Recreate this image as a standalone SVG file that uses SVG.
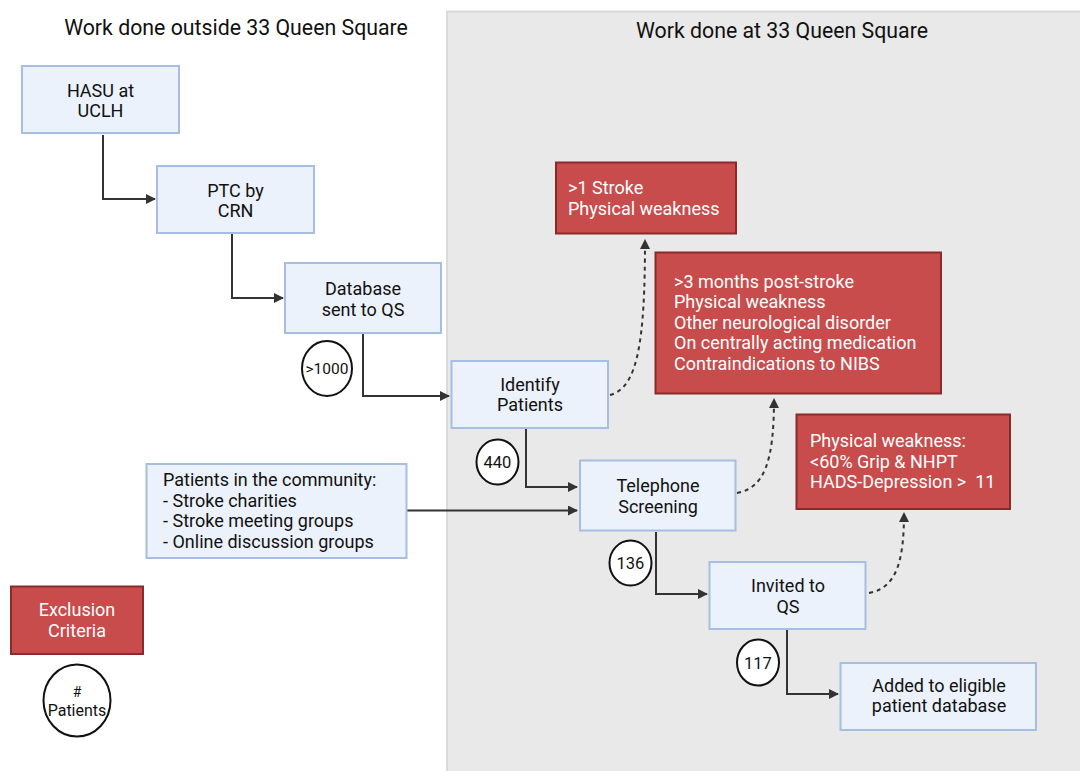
<svg xmlns="http://www.w3.org/2000/svg" width="1080" height="771" viewBox="0 0 1080 771">
<style>
text{font-family:Roboto,"Liberation Sans",sans-serif;font-size:18px;fill:#111}
.blue{fill:#ecf2fb;stroke:#a6bee4;stroke-width:2}
.red{fill:#c84c4c;stroke:#8a2a2a;stroke-width:2}
.wt{fill:#fff}
.c{text-anchor:middle}
.ov{fill:#fff;stroke:#111;stroke-width:2}
.ol{font-size:16.5px;text-anchor:middle}
.ln{fill:none;stroke:#333;stroke-width:2}
.dl{fill:none;stroke:#333;stroke-width:2;stroke-dasharray:4 4}
.title{font-size:21.3px;text-anchor:middle}
</style>
<defs>
<marker id="ah" viewBox="0 0 10 10" refX="9" refY="5" markerWidth="5" markerHeight="5" orient="auto" markerUnits="strokeWidth">
<path d="M0,0 L10,5 L0,10 z" fill="#333"/>
</marker>
</defs>
<rect width="1080" height="771" fill="#fff"/>
<g id="panel">
<rect x="447" y="11.5" width="640" height="770" fill="#e9e9e9" stroke="#dadada" stroke-width="2"/>
</g>
<g id="titles">
<text class="title" x="236" y="35">Work done outside 33 Queen Square</text>
<text class="title" x="782" y="38">Work done at 33 Queen Square</text>
</g>
<g id="connectors">
<path class="ln" d="M103,135 V199 H155" marker-end="url(#ah)"/>
<path class="ln" d="M232,234 V298 H283" marker-end="url(#ah)"/>
<path class="ln" d="M363,334 V396 H449" marker-end="url(#ah)"/>
<path class="ln" d="M526,429 V487 H577" marker-end="url(#ah)"/>
<path class="ln" d="M407,510.5 H577" marker-end="url(#ah)"/>
<path class="ln" d="M656,532 V594 H707" marker-end="url(#ah)"/>
<path class="ln" d="M787,630 V694 H838" marker-end="url(#ah)"/>
<path class="dl" d="M610,395 C638,388 645,340 645,240" marker-end="url(#ah)"/>
<path class="dl" d="M737,493 C765,488 774,460 774,399" marker-end="url(#ah)"/>
<path class="dl" d="M869,593 C897,588 904,560 904,513" marker-end="url(#ah)"/>
</g>
<g id="hasu">
<rect class="blue" x="22" y="66" width="157" height="67"/>
<text class="c" x="100.5" y="96.5">HASU at</text>
<text class="c" x="100.5" y="117">UCLH</text>
</g>
<g id="ptc">
<rect class="blue" x="157" y="166" width="157" height="67"/>
<text class="c" x="235.5" y="196.5">PTC by</text>
<text class="c" x="235.5" y="217">CRN</text>
</g>
<g id="database">
<rect class="blue" x="285" y="263" width="156" height="70"/>
<text class="c" x="363" y="295">Database</text>
<text class="c" x="363" y="315.5">sent to QS</text>
</g>
<g id="identify">
<rect class="blue" x="451.5" y="361" width="156.5" height="67"/>
<text class="c" x="530" y="390.5">Identify</text>
<text class="c" x="530" y="411">Patients</text>
</g>
<g id="telephone">
<rect class="blue" x="580" y="460.5" width="155.5" height="70"/>
<text class="c" x="658" y="492">Telephone</text>
<text class="c" x="658" y="512.5">Screening</text>
</g>
<g id="invited">
<rect class="blue" x="709.5" y="562" width="156" height="67"/>
<text class="c" x="788" y="592">Invited to</text>
<text class="c" x="788" y="612.5">QS</text>
</g>
<g id="added">
<rect class="blue" x="840.5" y="663" width="195.5" height="67"/>
<text class="c" x="939" y="691.5">Added to eligible</text>
<text class="c" x="939" y="712">patient database</text>
</g>
<g id="community">
<rect class="blue" x="146.5" y="464" width="260" height="94"/>
<text x="163" y="486">Patients in the community:</text>
<text x="163" y="506.5">- Stroke charities</text>
<text x="163" y="527">- Stroke meeting groups</text>
<text x="163" y="547.5">- Online discussion groups</text>
</g>
<g id="excl1">
<rect class="red" x="556" y="162.5" width="180" height="71"/>
<text class="wt" x="568" y="194">&gt;1 Stroke</text>
<text class="wt" x="568" y="215">Physical weakness</text>
</g>
<g id="excl2">
<rect class="red" x="655.5" y="252.5" width="285.5" height="141"/>
<text class="wt" x="674" y="287.5">&gt;3 months post-stroke</text>
<text class="wt" x="674" y="308">Physical weakness</text>
<text class="wt" x="674" y="328.5">Other neurological disorder</text>
<text class="wt" x="674" y="349">On centrally acting medication</text>
<text class="wt" x="674" y="369.5">Contraindications to NIBS</text>
</g>
<g id="excl3">
<rect class="red" x="796.5" y="414.5" width="213.5" height="94.5"/>
<text class="wt" x="810" y="447">Physical weakness:</text>
<text class="wt" x="810" y="467.5">&lt;60% Grip &amp; NHPT</text>
<text class="wt" x="810" y="488" xml:space="preserve">HADS-Depression &gt;  11</text>
</g>
<g id="legend-excl">
<rect class="red" x="11" y="586.5" width="132" height="67.5"/>
<text class="wt c" x="77" y="616">Exclusion</text>
<text class="wt c" x="77" y="636.5">Criteria</text>
</g>
<g id="legend-patients">
<ellipse class="ov" cx="77" cy="700.5" rx="33.5" ry="36"/>
<text class="c" x="77" y="697" style="font-size:14px">#</text>
<text class="c" x="77" y="715.5" style="font-size:16px">Patients</text>
</g>
<g id="n1000">
<ellipse class="ov" cx="327" cy="368.5" rx="25" ry="27.5"/>
<text class="ol" x="327" y="374" style="font-size:15.5px">&gt;1000</text>
</g>
<g id="n440">
<ellipse class="ov" cx="497.5" cy="462" rx="21" ry="22.5"/>
<text class="ol" x="497.5" y="468">440</text>
</g>
<g id="n136">
<ellipse class="ov" cx="630.5" cy="563" rx="21" ry="22.5"/>
<text class="ol" x="630.5" y="569">136</text>
</g>
<g id="n117">
<ellipse class="ov" cx="758" cy="662.5" rx="21" ry="23"/>
<text class="ol" x="758" y="668.5">117</text>
</g>
</svg>
